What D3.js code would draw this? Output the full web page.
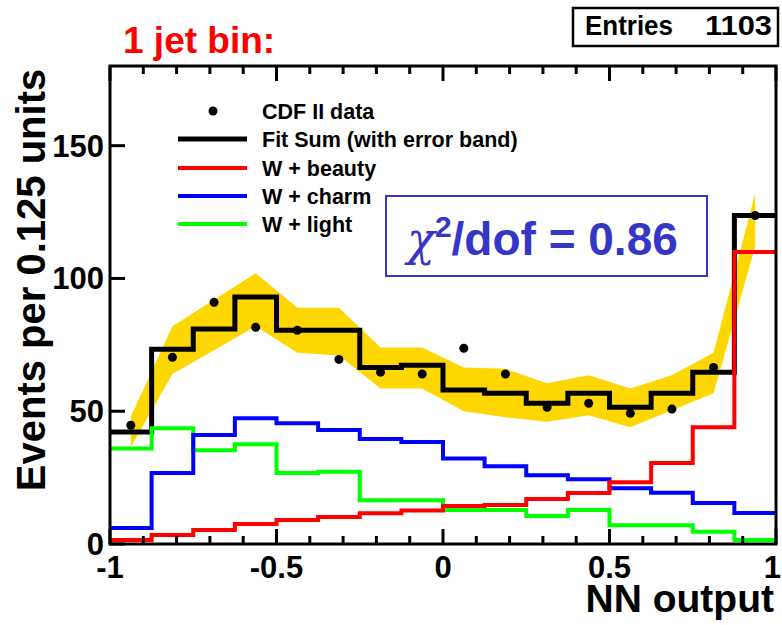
<!DOCTYPE html>
<html>
<head>
<meta charset="utf-8">
<script src="https://cdn.jsdelivr.net/npm/d3@7"></script>
<style>
  html, body { margin: 0; padding: 0; background: #fff; }
  svg { display: block; font-family: "Liberation Sans", Arial, sans-serif; }
</style>
</head>
<body>
<svg id="chart" width="782" height="625"></svg>
<script>
// ---- data ----
const binCenters = [-0.9375, -0.8125, -0.6875, -0.5625, -0.4375, -0.3125, -0.1875, -0.0625,
                     0.0625,  0.1875,  0.3125,  0.4375,  0.5625,  0.6875,  0.8125,  0.9375];
const binWidth = 0.125;
const dataCounts = [44.7, 70.3, 91, 81.6, 80.5, 69.5, 64.7, 64, 73.7, 64, 51.5, 53, 49.2, 50.8, 66.5, 123.7];
const fitSum     = [42.2, 73.3, 81, 93, 80.5, 80.5, 66.5, 67.3, 58, 56.8, 53, 56.8, 51.5, 56.8, 64.7, 123.7];
const bandUpper  = [48, 82, 92, 102, 89, 89, 74, 74, 66.5, 66, 60.5, 63.5, 58.6, 63.5, 72, 132];
const bandLower  = [36.5, 64, 73, 82, 72, 71, 58.6, 58.6, 50, 47.7, 46, 48.5, 44, 50.4, 56.8, 112];
const wBeauty    = [1.5, 3.4, 5.3, 7.5, 9, 10.2, 11.6, 12.6, 14.3, 14.7, 16.9, 19.2, 23.3, 30.5, 44, 110];
const wCharm     = [6, 26.7, 41, 47.4, 45.5, 42.9, 39.5, 38.4, 32.2, 29.3, 25.9, 24.4, 21, 19.3, 15.4, 11.7];
const wLight     = [36, 43.6, 35.3, 37.6, 26.7, 27.2, 16.5, 16.5, 12.8, 12.8, 10.5, 12.8, 7.1, 7.1, 4.6, 1.5];
const xTickValues = [-1, -0.5, 0, 0.5, 1];
const xTickLabels = ["-1", "-0.5", "0", "0.5", "1"];
const yTickValues = [0, 50, 100, 150];
const legendLabels = ["CDF II data", "Fit Sum (with error band)", "W + beauty", "W + charm", "W + light"];
const legendColors = ["#000000", "#000000", "#ff0000", "#0000ff", "#00ff00"];

// ---- layout ----
const L = 110, R = 776, T = 66, B = 544;
const svg = d3.select("#chart");
const x = d3.scaleLinear().domain([-1, 1]).range([L, R]);
const y = d3.scaleLinear().domain([0, 180]).range([B, T]);

// error band
const band = d3.area()
  .x((d, i) => x(binCenters[i]))
  .y0((d, i) => y(bandLower[i]))
  .y1((d, i) => y(bandUpper[i]));
svg.append("path").datum(bandUpper).attr("d", band).attr("fill", "#ffd700");

// histogram step helper
function stepPoints(vals) {
  const pts = vals.map((v, i) => [binCenters[i] - binWidth / 2, v]);
  pts.push([binCenters[vals.length - 1] + binWidth / 2, vals[vals.length - 1]]);
  return pts;
}
const stepLine = d3.line().x(d => x(d[0])).y(d => y(d[1])).curve(d3.curveStepAfter);

svg.append("path").attr("d", stepLine(stepPoints(fitSum)))
  .attr("fill", "none").attr("stroke", "#000").attr("stroke-width", 5);
[[wLight, "#00ff00"], [wCharm, "#0000ff"], [wBeauty, "#ff0000"]].forEach(([vals, col]) => {
  svg.append("path").attr("d", stepLine(stepPoints(vals)))
    .attr("fill", "none").attr("stroke", col).attr("stroke-width", 4);
});

// data points
svg.selectAll("circle.data").data(dataCounts).enter().append("circle")
  .attr("class", "data")
  .attr("cx", (d, i) => x(binCenters[i])).attr("cy", d => y(d)).attr("r", 4.5)
  .attr("fill", "#000");

// frame
svg.append("rect").attr("x", L).attr("y", T).attr("width", R - L).attr("height", B - T)
  .attr("fill", "none").attr("stroke", "#000").attr("stroke-width", 3);

// x ticks (bottom and top, inward)
const minorX = d3.range(-10, 11).map(k => k / 10);
minorX.forEach(v => {
  const major = Math.abs(v * 2 - Math.round(v * 2)) < 1e-9;
  const len = major ? 15 : 8;
  svg.append("line").attr("x1", x(v)).attr("x2", x(v)).attr("y1", B).attr("y2", B - len)
    .attr("stroke", "#000").attr("stroke-width", 3);
  svg.append("line").attr("x1", x(v)).attr("x2", x(v)).attr("y1", T).attr("y2", T + len)
    .attr("stroke", "#000").attr("stroke-width", 3);
});
xTickValues.forEach((v, i) => {
  const last = i === xTickValues.length - 1;
  svg.append("text").attr("x", last ? 781 : x(v)).attr("y", 578)
    .attr("text-anchor", last ? "end" : "middle")
    .attr("font-size", 31).attr("font-weight", "bold").text(xTickLabels[i]);
});
// y ticks
yTickValues.forEach(v => {
  svg.append("line").attr("x1", L).attr("x2", L + 15).attr("y1", y(v)).attr("y2", y(v))
    .attr("stroke", "#000").attr("stroke-width", 3);
  svg.append("text").attr("x", 104).attr("y", y(v) + 11).attr("text-anchor", "end")
    .attr("font-size", 31).attr("font-weight", "bold").text(v);
});

// axis titles
svg.append("text").attr("x", 774).attr("y", 612).attr("text-anchor", "end")
  .attr("font-size", 39).attr("font-weight", "bold").text("NN output");
svg.append("text").attr("transform", "translate(45,280) rotate(-90)").attr("text-anchor", "middle")
  .attr("font-size", 40).attr("font-weight", "bold").text("Events per 0.125 units");

// title
svg.append("text").attr("x", 123).attr("y", 53).attr("fill", "#ff0000")
  .attr("font-size", 37).attr("font-weight", "bold").text("1 jet bin:");

// Entries box
svg.append("rect").attr("x", 573).attr("y", 8).attr("width", 205).attr("height", 38)
  .attr("fill", "#fff").attr("stroke", "#000").attr("stroke-width", 2.5);
svg.append("text").attr("x", 585).attr("y", 35).attr("font-size", 28).attr("font-weight", "bold")
  .attr("textLength", 88).attr("lengthAdjust", "spacingAndGlyphs").text("Entries");
svg.append("text").attr("x", 705).attr("y", 35).attr("font-size", 28)
  .attr("textLength", 67).attr("lengthAdjust", "spacingAndGlyphs")
  .attr("font-weight", "bold").text("1103");

// legend
const rowY = [111, 139, 168, 196, 224];
legendLabels.forEach((lab, i) => {
  if (i === 0) {
    svg.append("circle").attr("cx", 213).attr("cy", rowY[i]).attr("r", 4.5).attr("fill", "#000");
  } else {
    svg.append("line").attr("x1", 178).attr("x2", 247).attr("y1", rowY[i]).attr("y2", rowY[i])
      .attr("stroke", legendColors[i]).attr("stroke-width", i === 1 ? 5 : 4);
  }
  svg.append("text").attr("x", 262).attr("y", rowY[i] + 7.5).attr("font-size", 21.5)
    .attr("font-weight", "bold").text(lab);
});

// chi2 box
svg.append("rect").attr("x", 386).attr("y", 196).attr("width", 321).attr("height", 80)
  .attr("fill", "#fff").attr("stroke", "#3535c8").attr("stroke-width", 2);
const chi = svg.append("text").attr("x", 407).attr("y", 255).attr("fill", "#3535c8")
  .attr("font-size", 46).attr("font-weight", "bold");
chi.append("tspan").attr("font-family", "'DejaVu Serif', 'Liberation Serif', serif")
  .attr("font-style", "italic").attr("font-weight", "normal").text("χ");
chi.append("tspan").attr("font-size", 30).attr("dy", -18).text("2");
chi.append("tspan").attr("dy", 18).text("/dof = 0.86");
</script>
</body>
</html>
